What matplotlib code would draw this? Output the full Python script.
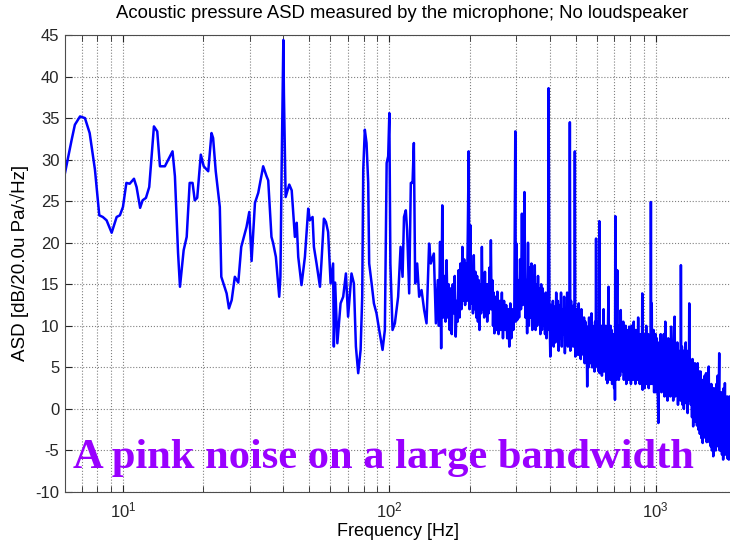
import matplotlib
matplotlib.use('Agg')
import matplotlib.pyplot as plt
from matplotlib.ticker import MultipleLocator, LogLocator, NullFormatter

# (frequency [Hz], ASD [dB])
band_low = [
    (6.06, 28.4), (6.42, 32.4), (6.6, 34.2), (6.9, 35.2), (7.2, 35.0), (7.5, 33.2),
    (7.85, 28.8), (8.15, 23.3), (8.4, 23.1), (8.68, 22.7), (9.07, 21.2), (9.47, 23.1),
    (9.74, 23.3), (10.0, 24.3), (10.3, 27.2), (10.6, 27.1), (11.0, 27.7), (11.25, 26.7),
    (11.6, 24.2), (11.85, 25.1), (12.2, 25.4), (12.55, 26.7), (13.07, 34.0), (13.45, 33.4),
    (13.77, 29.2), (14.37, 29.2), (15.35, 31.0), (15.67, 28.0), (16.1, 18.8), (16.37, 14.7),
    (16.9, 19.1), (17.35, 20.7), (17.8, 27.2), (18.25, 27.2), (18.6, 25.1), (19.0, 25.4),
    (19.6, 30.6), (20.1, 29.2), (20.9, 28.6), (21.5, 33.2), (21.8, 32.6), (22.3, 28.6),
    (23.1, 24.3), (23.4, 15.9), (24.5, 13.9), (25.0, 12.1), (25.6, 13.1), (26.3, 15.9),
    (27.1, 15.2), (27.8, 19.5), (29.1, 21.9),
]

band_mid = [
    (29.8, 23.7), (30.4, 17.8), (31.3, 24.8), (32.2, 26.0), (33.6, 29.2), (34.6, 28.0),
    (35.1, 27.5), (36.1, 20.7), (36.6, 20.0), (37.5, 18.3), (38.6, 13.5), (39.0, 15.9),
    (39.4, 28.4), (40.0, 44.4), (40.2, 38.0), (40.5, 32.0), (40.8, 25.5), (42.1, 27.0),
    (43.0, 26.3), (44.2, 20.7), (44.9, 22.4), (45.5, 18.3), (46.8, 14.9), (48.2, 18.3),
    (49.6, 24.1), (50.3, 22.7), (51.5, 23.1), (52.1, 19.5), (53.3, 17.5), (54.9, 14.7),
    (55.6, 17.6), (56.8, 22.9), (57.8, 22.5), (58.9, 21.3), (60.2, 15.1), (61.5, 17.5),
    (61.9, 7.5), (62.6, 15.2), (63.8, 7.9), (65.6, 12.7), (67.1, 13.5), (68.7, 16.3),
    (70.0, 11.1), (72.1, 16.3), (73.6, 15.1), (74.9, 7.5), (76.4, 4.3), (78.0, 7.1),
    (79.1, 13.5), (79.8, 28.8), (80.9, 33.6), (82.1, 32.0), (83.3, 27.2), (84.0, 17.5),
    (85.8, 15.1), (87.5, 12.7), (89.5, 11.5), (91.6, 9.5), (94.3, 7.1), (96.2, 9.5),
    (97.7, 29.6), (99.0, 30.4), (100.0, 35.6), (100.9, 17.5), (102.8, 9.5), (104.9, 10.3),
    (107.9, 13.5), (110.2, 19.5), (112.1, 15.9), (113.5, 23.1), (115.3, 23.9), (116.6, 21.5),
    (118.7, 13.9), (120.4, 27.2), (122.2, 27.2), (123.6, 32.0), (125.0, 15.1), (127.2, 17.5),
    (129.4, 13.5), (132.1, 14.3), (135.1, 11.9), (137.9, 10.3), (141.0, 19.9), (143.1, 17.5),
    (146.9, 18.7), (149.5, 10.3),
]

band_high = [
    (152, 15.5), (153.5, 10.0), (155, 20.1), (156.5, 7.3), (158, 24.5), (159.5, 11.0),
    (161, 16.0), (162.5, 10.5), (164, 17.9), (165.5, 11.0), (167, 15.0), (168.5, 9.5),
    (170, 14.5), (171.5, 9.0), (173, 15.0), (174.5, 11.5), (176, 16.0), (177.5, 8.7),
    (179, 13.0), (180.5, 10.5), (182, 16.7), (183.5, 11.0), (185, 17.5), (186.5, 12.0),
    (188, 19.5), (189.5, 13.0), (191, 18.0), (192.5, 12.5), (194, 17.5), (195.5, 13.0),
    (197, 21.0), (198.5, 31.0), (200, 12.0), (201.5, 22.1), (203, 12.7), (204.5, 17.0),
    (206, 11.5), (207.5, 18.5), (209, 12.0), (210.5, 16.5), (212, 11.0), (213.5, 16.0),
    (215, 10.5), (216.5, 15.5), (218, 9.5), (219.5, 15.0), (221, 11.5), (222.5, 19.5),
    (224, 12.0), (225.5, 16.0), (227, 11.0), (228.5, 16.5), (230, 11.5), (231.5, 15.0),
    (233, 10.5), (234.5, 15.0), (236, 11.5), (237.5, 17.0), (239, 12.0), (240.5, 20.3),
    (242, 12.0), (243.5, 15.5), (245, 10.0), (246.5, 14.0), (248, 9.1), (249.5, 13.5),
    (252, 9.5), (254.5, 14.1), (257, 9.0), (259.5, 13.0), (262, 9.5), (264.5, 14.0),
    (267, 8.5), (269.5, 13.0), (272, 9.5), (274.5, 12.5), (277, 8.5), (279.5, 12.0),
    (282, 7.5), (284.5, 12.7), (287, 8.5), (289.5, 12.0), (292, 9.5), (294.5, 12.0),
    (297, 33.4), (298.5, 10.5), (300, 19.9), (302, 10.7), (304.5, 15.5), (307, 11.0),
    (309.5, 18.0), (312, 12.0), (314.5, 23.5), (317, 12.5), (319.5, 17.0), (321.5, 26.1),
    (324, 11.0), (326.5, 15.5), (329, 9.1), (331.5, 20.0), (334, 10.0), (336.5, 17.0),
    (339, 11.0), (341.5, 17.5), (344, 9.5), (346.5, 16.0), (349, 10.5), (351.5, 17.3),
    (354, 9.5), (356.5, 15.0), (359, 10.0), (361.5, 16.0), (364, 10.5), (366.5, 14.5),
    (369, 9.0), (371.5, 15.0), (374, 9.5), (376.5, 14.5), (379, 10.0), (381.5, 13.5),
    (384, 9.0), (386.5, 14.0), (389, 8.5), (391.5, 13.5), (394, 9.5), (396, 38.6),
]

# dense part of the spectrum, where the fft bins pile up into a band
band_dense = [
    (399, 12.0), (402, 6.3), (405, 12.5), (408, 8.0), (411, 13.0), (414, 7.5),
    (417, 12.3), (420, 8.0), (423, 14.0), (426, 9.0), (429, 13.0), (432, 7.0),
    (435, 12.5), (438, 8.5), (441, 14.0), (444, 7.5), (447, 12.0), (450, 9.0),
    (453, 13.5), (456, 6.7), (459, 12.0), (462, 8.0), (465, 14.0), (468, 7.5),
    (471, 11.5), (474, 8.5), (476, 34.5), (478, 7.0), (481, 13.0), (484, 8.0),
    (487, 12.0), (490, 7.5), (493, 12.5), (495, 8.0), (497, 31.0), (499, 6.3),
    (502, 12.0), (505, 7.0), (508, 11.5), (511, 6.5), (514, 12.7), (517, 7.5),
    (520, 11.0), (523, 6.0), (526, 12.0), (529, 7.5), (532, 10.5), (535, 6.5),
    (538, 11.0), (541, 5.5), (544, 10.5), (547, 7.0), (550, 9.5), (553, 2.7),
    (556, 9.9), (559, 5.0), (562, 11.0), (565, 6.0), (568, 10.0), (571, 5.5),
    (574, 11.5), (577, 5.0), (580, 10.0), (583, 6.0), (586, 9.5), (589, 4.5),
    (592, 10.5), (595, 6.0), (597, 20.5), (599, 5.5), (602, 9.5), (605, 5.0),
    (608, 10.5), (611, 4.5), (614, 22.6), (616, 4.3), (619, 9.5), (622, 5.5),
    (625, 10.0), (628, 4.0), (631, 9.0), (634, 5.0), (637, 12.0), (640, 4.5),
    (643, 9.5), (646, 5.0), (649, 10.0), (652, 3.5), (655, 9.5), (658, 3.1),
    (661, 9.0), (665, 14.7), (668, 4.5), (671, 9.0), (674, 3.5), (677, 10.0),
    (680, 5.0), (683, 9.5), (686, 3.0), (689, 8.5), (692, 4.0), (695, 9.0),
    (698, 2.5), (701, 8.0), (703, 1.1), (705, 23.2), (707, 4.5), (710, 10.0),
    (713, 3.5), (717, 16.7), (720, 4.0), (724, 9.5), (727, 3.5),
    (731, 10.0), (735, 4.0), (739, 11.9), (743, 5.0), (747, 10.0), (751, 4.5),
    (755, 10.5), (759, 3.5), (763, 9.5), (767, 4.5), (771, 10.0), (775, 3.0),
    (779, 9.5), (783, 4.0), (787, 9.0), (791, 3.5), (795, 9.9), (799, 4.5),
    (803, 8.5), (807, 3.0), (811, 10.0), (815, 4.5), (819, 9.0), (823, 3.5),
    (827, 10.5), (831, 4.0), (835, 9.0), (839, 3.0), (843, 9.5), (847, 5.0),
    (851, 9.0), (855, 3.5), (859, 11.0), (863, 4.0), (867, 8.5), (871, 3.0),
    (875, 9.0), (879, 4.5), (883, 8.5), (887, 3.0), (890, 13.9), (893, 2.3),
    (897, 9.0), (901, 4.0), (905, 8.5), (909, 2.5), (913, 9.0), (917, 4.0),
    (921, 10.0), (925, 3.0), (929, 8.5), (933, 3.5), (937, 9.0), (941, 2.5),
    (945, 8.0), (949, 4.0), (953, 8.5), (956, 3.0), (959, 24.9), (962, 5.0),
    (966, 12.7), (970, 3.0), (974, 8.5), (978, 4.0), (982, 9.5), (986, 2.0),
    (990, 8.5), (994, 3.0), (998, 9.0),
    (1002, 2.0), (1009, 8.5), (1016, 3.0), (1023, -1.7), (1030, 8.0), (1037, 2.5),
    (1044, 9.0), (1051, 2.0), (1058, 8.0), (1065, 3.0), (1072, 9.0), (1079, 1.5),
    (1086, 10.5), (1093, 2.0), (1100, 8.0), (1107, 1.0), (1114, 8.5), (1121, 2.5),
    (1128, 7.5), (1135, 1.5), (1142, 9.9), (1149, 2.0), (1156, 7.5), (1163, 1.0),
    (1170, 8.0), (1177, 11.1), (1184, 1.5), (1191, 7.0), (1198, 2.0), (1205, 8.0),
    (1212, 0.5), (1219, 7.0), (1226, 1.5), (1233, 6.0), (1240, 1.0), (1243, 17.3),
    (1247, 3.0), (1254, 7.5), (1261, 0.5), (1268, 7.0), (1275, 0.0), (1282, 6.5),
    (1289, 0.7), (1296, 8.0), (1303, 1.0), (1310, 6.0), (1317, -0.5), (1324, 7.0),
    (1331, 1.0), (1336, 12.7), (1340, 1.5), (1347, 6.0), (1354, 0.5), (1361, 5.5),
    (1368, -1.0), (1375, 6.0), (1382, -2.1), (1389, 5.0), (1396, -1.0), (1403, 5.5),
    (1410, -1.5), (1419, 5.0), (1428, -2.0), (1437, 5.5), (1446, -2.5), (1455, 4.5),
    (1464, -3.0), (1473, 4.5), (1482, -3.5), (1491, 3.5), (1500, -4.1), (1509, 3.0),
    (1518, -3.0), (1527, 4.0), (1536, -3.5), (1545, 4.3), (1554, -4.0), (1563, 3.0),
    (1572, -3.5), (1581, 5.1), (1590, -4.0), (1599, 2.5), (1608, -4.5), (1617, 3.0),
    (1626, -5.0), (1635, 2.0), (1644, -5.7), (1653, 2.5), (1662, -4.5), (1671, 2.0),
    (1680, -5.0), (1689, 3.0), (1698, -4.5), (1707, 4.0), (1716, -4.0), (1725, 2.0),
    (1731, 6.7), (1737, -5.0), (1746, 1.5), (1755, -5.0), (1764, 2.0), (1773, -5.5),
    (1782, 1.0), (1791, -6.1), (1800, 2.5), (1809, -5.0), (1818, 3.1), (1827, -5.5),
    (1836, 1.0), (1845, -5.0), (1854, 1.5), (1863, -6.0), (1872, 0.5), (1881, -6.1),
    (1890, 1.5), (1900, -5.0),
]

title = 'Acoustic pressure ASD measured by the microphone; No loudspeaker'
xlabel = 'Frequency [Hz]'
ylabel = 'ASD [dB/20.0u Pa/\u221aHz]'
banner = 'A pink noise on a large bandwidth'

points = band_low + band_mid + band_high + band_dense
freq = [p[0] for p in points]
asd = [p[1] for p in points]

plt.rcParams['font.family'] = ['Liberation Sans', 'DejaVu Sans']
plt.rcParams['axes.unicode_minus'] = False

W, H = 730, 544
fig = plt.figure(figsize=(W / 100, H / 100), dpi=100)
ax = fig.add_axes([65 / W, 52 / H, 665 / W, 457 / H])

ax.plot(freq, asd, color='#0000ff', linewidth=1.8)

ax.set_xscale('log')
ax.set_xlim(6.06, 1900)
ax.set_ylim(-10, 45)
ax.yaxis.set_major_locator(MultipleLocator(5))
ax.xaxis.set_minor_locator(LogLocator(base=10, subs=range(2, 10)))
ax.xaxis.set_minor_formatter(NullFormatter())

# matlab style dotted grid
ax.grid(which='major', linestyle=':', color='0.5', linewidth=0.8)
ax.grid(which='minor', axis='x', linestyle=':', color='0.5', linewidth=0.8)

ax.tick_params(which='both', direction='in', top=True, right=False,
               labelsize=12, colors='0.15')
ax.tick_params(which='major', length=5)
ax.tick_params(which='minor', length=4)
ax.tick_params(axis='x', pad=6)
ax.tick_params(axis='y', pad=4)
ax.spines['right'].set_visible(False)
for s in ('left', 'top', 'bottom'):
    ax.spines[s].set_color('0.3')

fig.text(402 / W, 1 - 14 / H, title, ha='center', va='center', fontsize=13.3)
fig.text(398 / W, 1 - 531 / H, xlabel, ha='center', va='center', fontsize=13)
fig.text(20 / W, 1 - 263 / H, ylabel, ha='center', va='center',
         rotation=90, fontsize=13.5)

fig.text(73 / W, 1 - 468 / H, banner, ha='left', va='baseline',
         fontsize=30.6, fontweight='bold', family='Liberation Serif',
         color='#9900ff')

fig.savefig('out.png', dpi=100)
